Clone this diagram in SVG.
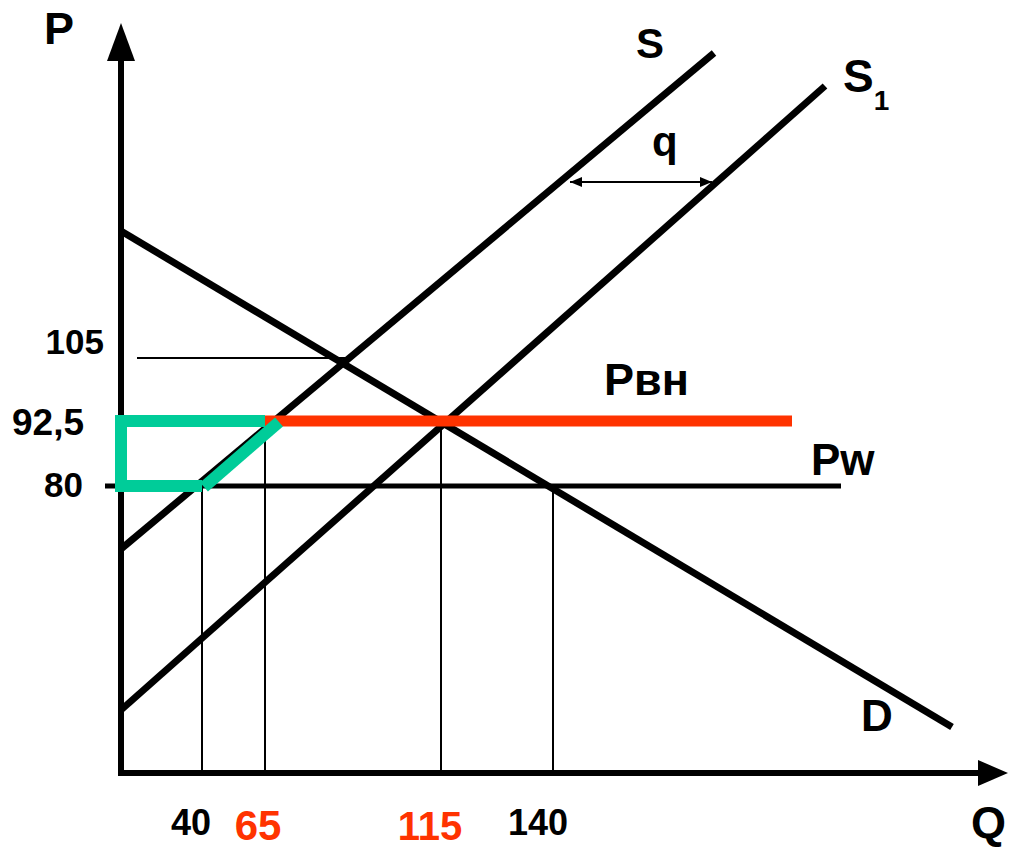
<svg xmlns="http://www.w3.org/2000/svg" width="1009" height="847" viewBox="0 0 1009 847">
<style>
.t{font-family:"Liberation Sans",Arial,sans-serif;font-weight:bold;fill:#000}
.r{fill:#FF3300}
.thick{stroke:#000;stroke-width:7;fill:none}
.thin{stroke:#000;stroke-width:2;fill:none}
</style>
<defs>
<marker id="ah" viewBox="0 0 12 10" refX="12" refY="5" markerWidth="12" markerHeight="10" markerUnits="userSpaceOnUse" orient="auto-start-reverse">
<path d="M0,0 L12,5 L0,10 Z" fill="#000"/>
</marker>
</defs>
<rect width="1009" height="847" fill="#fff"/>
<g id="axes">
<line x1="121" y1="775" x2="121" y2="58" stroke="#000" stroke-width="6"/>
<polygon points="121,23 107,61 135,61" fill="#000"/>
<line x1="118" y1="773" x2="980" y2="773" stroke="#000" stroke-width="6"/>
<polygon points="1008,773 978,760 978,786" fill="#000"/>
<text class="t" x="44" y="44" font-size="45">P</text>
<text class="t" x="971" y="838" font-size="45">Q</text>
</g>
<g id="guides">
<line class="thin" x1="137" y1="358" x2="345" y2="358"/>
<line class="thin" x1="202" y1="486" x2="202" y2="772"/>
<line class="thin" x1="265" y1="421" x2="265" y2="772"/>
<line class="thin" x1="441" y1="421" x2="441" y2="772"/>
<line class="thin" x1="553" y1="486" x2="553" y2="772"/>
</g>
<g id="connectors">
<line id="S" class="thick" x1="121" y1="549" x2="714" y2="53"/>
<line id="S1" class="thick" x1="121" y1="710" x2="825" y2="86"/>
<line id="D" class="thick" x1="121" y1="231" x2="952" y2="727"/>
<line id="Pw" x1="105" y1="486" x2="841" y2="486" stroke="#000" stroke-width="5"/>
<line id="Pvn" x1="265" y1="421" x2="792" y2="421" stroke="#FF3300" stroke-width="11"/>
<polyline id="green" points="265,421 121,421 121,486 202,486" stroke="#00CC99" stroke-width="12" fill="none" stroke-linejoin="miter"/>
<line x1="204" y1="487" x2="279" y2="422" stroke="#00CC99" stroke-width="12"/>
<line id="q-arrow" x1="570" y1="182" x2="712" y2="182" stroke="#000" stroke-width="2" marker-start="url(#ah)" marker-end="url(#ah)"/>
</g>
<g id="labels">
<text class="t" x="636" y="58" font-size="42">S</text>
<text class="t" x="843" y="92" font-size="46">S<tspan font-size="28" dy="18">1</tspan></text>
<text class="t" x="652" y="156" font-size="42">q</text>
<text class="t" x="604" y="395" font-size="45">Pвн</text>
<text class="t" x="811" y="475" font-size="44">Pw</text>
<text class="t" x="861" y="731" font-size="44">D</text>
<text class="t" x="104" y="354" font-size="35" text-anchor="end">105</text>
<text class="t" x="84" y="435" font-size="37" text-anchor="end">92,5</text>
<text class="t" x="83" y="497" font-size="35" text-anchor="end">80</text>
<text class="t" x="191" y="835" font-size="36" text-anchor="middle">40</text>
<text class="t r" x="258" y="840" font-size="42" text-anchor="middle">65</text>
<text class="t r" x="430" y="840" font-size="40" text-anchor="middle">115</text>
<text class="t" x="538" y="835" font-size="36" text-anchor="middle">140</text>
</g>
</svg>
